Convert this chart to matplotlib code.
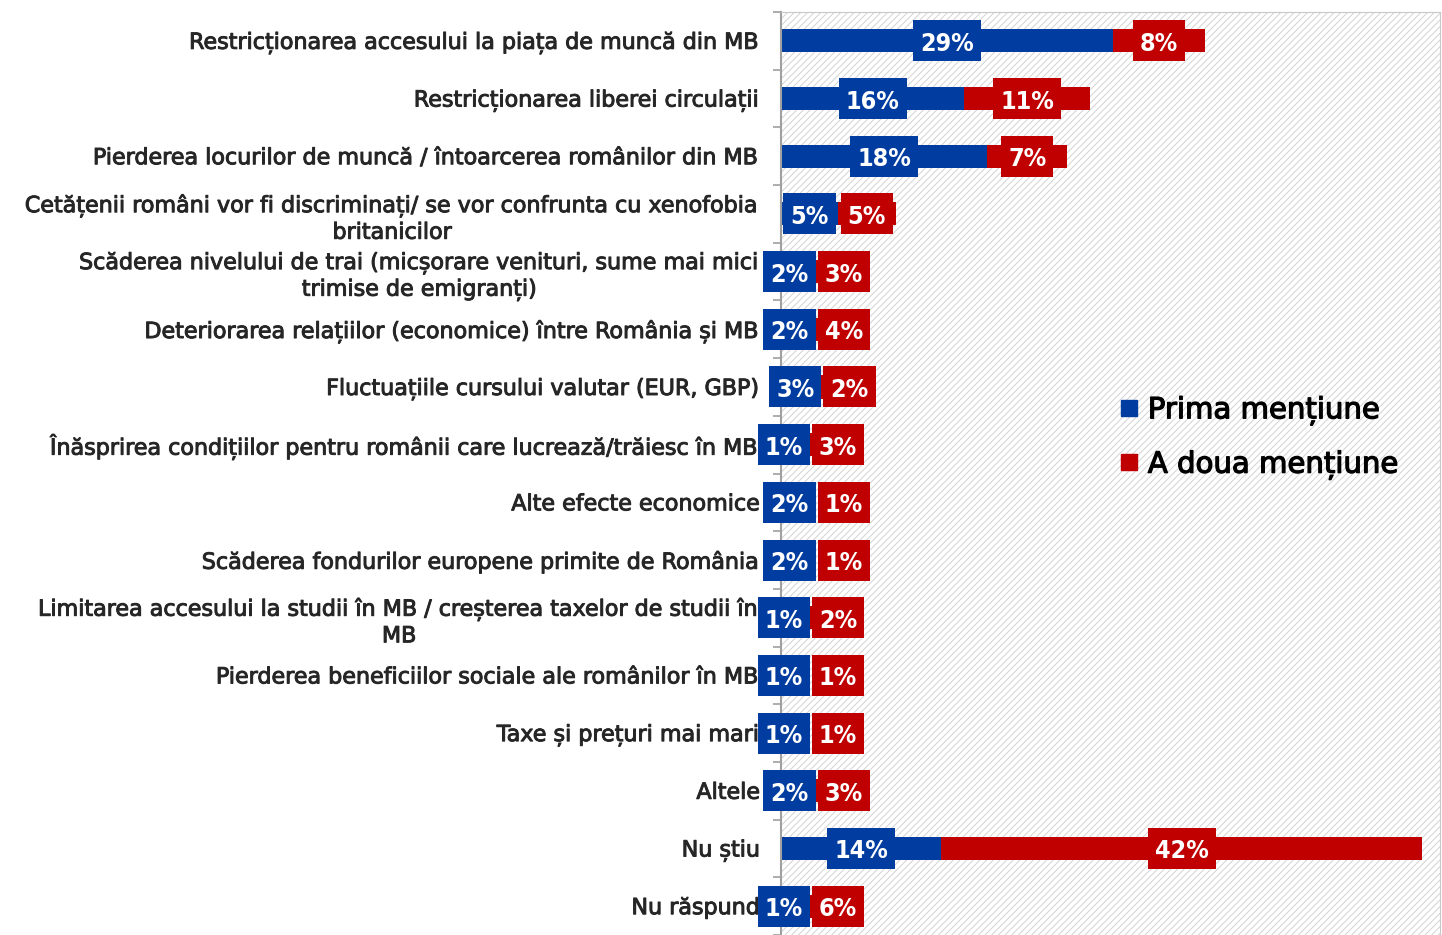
import matplotlib
matplotlib.use("Agg")
import matplotlib.pyplot as plt
import matplotlib.patheffects as pe
from matplotlib.lines import Line2D
from matplotlib.patches import Rectangle
import numpy as np

# Brexit effects - first / second mention (%)
categories = [
    "Restricționarea accesului la piața de muncă din MB",
    "Restricționarea liberei circulații",
    "Pierderea locurilor de muncă / întoarcerea românilor din MB",
    "Cetățenii români vor fi discriminați/ se vor confrunta cu xenofobia\nbritanicilor",
    "Scăderea nivelului de trai (micșorare venituri, sume mai mici\ntrimise de emigranți)",
    "Deteriorarea relațiilor (economice) între România și MB",
    "Fluctuațiile cursului valutar (EUR, GBP)",
    "Înăsprirea condițiilor pentru românii care lucrează/trăiesc în MB",
    "Alte efecte economice",
    "Scăderea fondurilor europene primite de România",
    "Limitarea accesului la studii în MB / creșterea taxelor de studii în\nMB",
    "Pierderea beneficiilor sociale ale românilor în MB",
    "Taxe și prețuri mai mari",
    "Altele",
    "Nu știu",
    "Nu răspund",
]
prima = [29, 16, 18, 5, 2, 2, 3, 1, 2, 2, 1, 1, 1, 2, 14, 1]
a_doua = [8, 11, 7, 5, 3, 4, 2, 3, 1, 1, 2, 1, 1, 3, 42, 6]
series_names = ["Prima mențiune", "A doua mențiune"]

BLUE = "#013da0"
RED = "#c00000"
TXT = "#262626"
W, H = 1442, 935


def main():
    plt.rcParams["font.family"] = ["DejaVu Sans"]
    plt.rcParams["hatch.color"] = "#d2d2d2"
    plt.rcParams["hatch.linewidth"] = 0.7

    fig = plt.figure(figsize=(W / 100, H / 100), dpi=100)
    ax = fig.add_axes([781 / W, 0, (1440 - 781) / W, (H - 12) / H])

    y = np.arange(len(categories))
    p = np.array(prima)
    s = np.array(a_doua)

    ax.patch.set_facecolor("white")
    ax.patch.set_hatch("/////")
    ax.patch.set_edgecolor("#d2d2d2")

    ax.barh(y, p, height=0.4, color=BLUE, zorder=2)
    ax.barh(y, s, left=p, height=0.4, color=RED, zorder=2)

    ax.set_xlim(0, 659 / 11.45)
    ax.set_ylim(-0.5 + 923 / 58.2, -0.5)
    ax.set_xticks([])

    thick = [pe.withStroke(linewidth=0.7, foreground=TXT)]
    ax.set_yticks(y)
    ax.set_yticklabels(categories, fontsize=16, color=TXT,
                       multialignment="center", linespacing=1.35)
    for t in ax.get_yticklabels():
        t.set_path_effects(thick)
    ax.tick_params(axis="y", which="major", length=0, pad=15)
    ax.set_yticks(np.arange(len(categories) + 1) - 0.5, minor=True)
    ax.tick_params(axis="y", which="minor", length=6, width=1.2,
                   color="#a0a0a0", direction="out")

    for side in ["top", "right"]:
        ax.spines[side].set_color("#c8c8c8")
    ax.spines["bottom"].set_visible(False)
    ax.spines["left"].set_color("#a0a0a0")
    ax.spines["left"].set_linewidth(1.5)

    # value labels centred on segments, pushed apart where they collide
    lab_kw = dict(ha="center", va="center", color="white", fontsize=18,
                  fontweight="bold", fontstretch="condensed", zorder=4)
    labels = []
    for i in range(len(categories)):
        tb = ax.text(p[i] / 2, i, f"{p[i]}%", **lab_kw)
        tr = ax.text(p[i] + s[i] / 2, i, f"{s[i]}%", **lab_kw)
        labels.append((tb, tr))

    fig.canvas.draw()
    r = fig.canvas.get_renderer()
    inv = ax.transData.inverted()
    pad_x, box_h, drop = 7, 41, 3
    for i, (tb, tr) in enumerate(labels):
        yd = ax.transData.transform((0, i))[1]
        wb = tb.get_window_extent(r).width + 2 * pad_x
        wr = tr.get_window_extent(r).width + 2 * pad_x
        cb = ax.transData.transform((tb.get_position()[0], i))[0]
        cr = ax.transData.transform((tr.get_position()[0], i))[0]
        if cb + wb / 2 + 2 > cr - wr / 2:
            cb -= 3
            cr = cb + wb / 2 + 2 + wr / 2
        for t, cx, w, fc in ((tb, cb, wb, BLUE), (tr, cr, wr, RED)):
            x0, y0 = inv.transform((cx - w / 2, yd + box_h / 2))
            x1, y1 = inv.transform((cx + w / 2, yd - box_h / 2))
            ax.add_patch(Rectangle((x0, y0), x1 - x0, y1 - y0, fc=fc,
                                   lw=0, zorder=3, clip_on=False))
            t.set_position(inv.transform((cx, yd - drop)))

    handles = [Line2D([], [], marker="s", ls="none", color=c,
                      markersize=11.5) for c in (BLUE, RED)]
    leg = ax.legend(handles, series_names, loc="center left",
                    bbox_to_anchor=(1093 / W, 1 - 438 / H),
                    bbox_transform=fig.transFigure, frameon=False,
                    fontsize=21, handlelength=0.7, handletextpad=0.28,
                    labelspacing=0.87)
    for t in leg.get_texts():
        t.set_color("black")
        t.set_path_effects([pe.withStroke(linewidth=0.9,
                                          foreground="black")])

    fig.savefig("out.png", dpi=100)


if __name__ == "__main__":
    main()
